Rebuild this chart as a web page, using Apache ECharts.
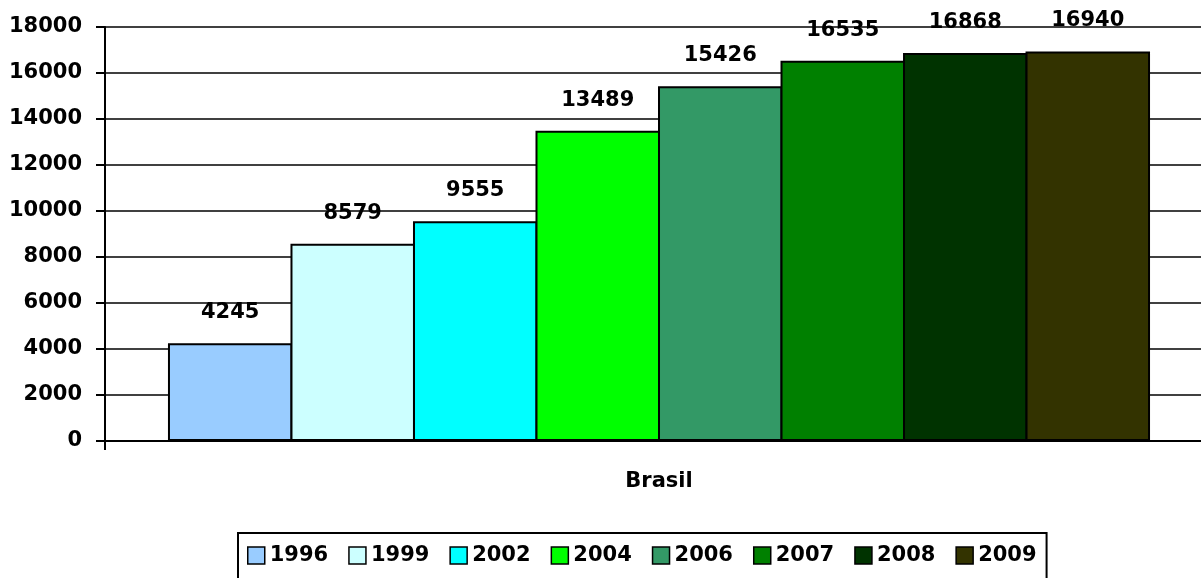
<!DOCTYPE html>
<html>
<head>
<meta charset="utf-8">
<script src="https://cdn.jsdelivr.net/npm/echarts@6/dist/echarts.min.js"></script>
<style>
  html, body { margin: 0; padding: 0; background: #fff; overflow: hidden; }
  #chart { width: 1213px; height: 578px; }
</style>
</head>
<body>
<div id="chart"></div>
<script>
// Categories, years and values
const categories = ['Brasil'];
const years = ['1996', '1999', '2002', '2004', '2006', '2007', '2008', '2009'];
const values = [4245, 8579, 9555, 13489, 15426, 16535, 16868, 16940];
const colors = ['#99CCFF', '#CCFFFF', '#00FFFF', '#00FF00', '#339966', '#008000', '#003300', '#333300'];

const FONT = 'DejaVu Sans';

const series = years.map((y, i) => ({
  name: y,
  type: 'bar',
  data: [values[i]],
  barWidth: 124.5,
  barGap: '-1.6%',
  itemStyle: { color: colors[i], borderColor: '#000', borderWidth: 2 },
  label: {
    show: true,
    position: 'top',
    distance: 20,
    color: '#000',
    fontFamily: FONT,
    fontWeight: 'bold',
    fontSize: 21
  }
}));

const chart = echarts.init(document.getElementById('chart'));
chart.setOption({
  animation: false,
  backgroundColor: '#fff',
  grid: { left: 105, top: 27, right: 0, height: 414, containLabel: false },
  legend: {
    data: years,
    left: 238,
    top: 533,
    icon: 'rect',
    itemWidth: 17,
    itemHeight: 17,
    itemGap: 20,
    padding: [12, 10, 20, 9],
    borderColor: '#000',
    borderWidth: 2,
    itemStyle: { borderColor: '#000', borderWidth: 1.5 },
    textStyle: { fontFamily: FONT, fontWeight: 'bold', fontSize: 21, color: '#000' }
  },
  xAxis: {
    type: 'category',
    data: categories,
    axisLine: { lineStyle: { color: '#000', width: 2 } },
    axisTick: { show: true, length: 9, lineStyle: { color: '#000', width: 2 } },
    axisLabel: { margin: 30, color: '#000', fontFamily: FONT, fontWeight: 'bold', fontSize: 21 }
  },
  yAxis: {
    type: 'value',
    min: 0,
    max: 18000,
    interval: 2000,
    axisLine: { show: true, lineStyle: { color: '#000', width: 2 } },
    axisTick: { show: true, length: 9, lineStyle: { color: '#000', width: 2 } },
    axisLabel: {
      margin: 23,
      color: '#000',
      fontFamily: FONT,
      fontWeight: 'bold',
      fontSize: 21,
      formatter: v => String(v)
    },
    splitLine: { show: true, lineStyle: { color: '#000', width: 1.5 } }
  },
  series: series
});
</script>
</body>
</html>
